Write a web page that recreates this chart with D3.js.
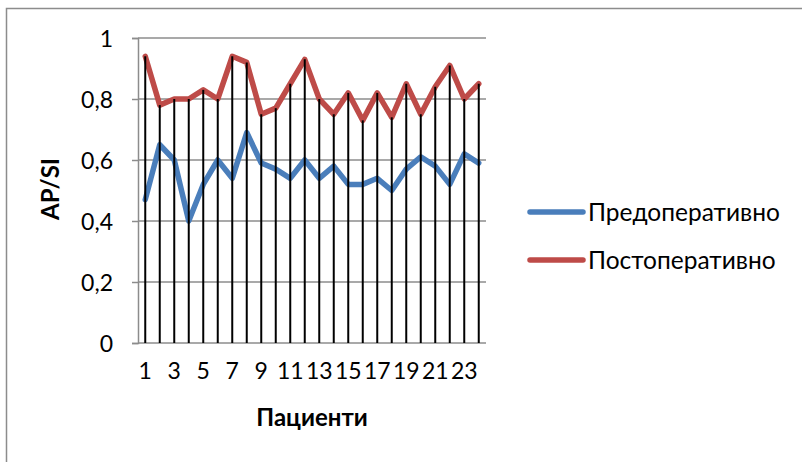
<!DOCTYPE html>
<html>
<head>
<meta charset="utf-8">
<script src="https://cdn.jsdelivr.net/npm/d3@7"></script>
<style>
  body { margin: 0; background: #fff; }
  text { font-family: Lato, "Open Sans", sans-serif; fill: #000; }
</style>
</head>
<body>
<div id="chart"></div>
<script>
// patients 1..24
var patients = d3.range(1, 25);
var preOp = [0.47, 0.65, 0.60, 0.40, 0.52, 0.60, 0.54, 0.69, 0.59, 0.57, 0.54, 0.60,
             0.54, 0.58, 0.52, 0.52, 0.54, 0.50, 0.57, 0.61, 0.58, 0.52, 0.62, 0.59];
var postOp = [0.94, 0.78, 0.80, 0.80, 0.83, 0.80, 0.94, 0.92, 0.75, 0.77, 0.85, 0.93,
              0.80, 0.75, 0.82, 0.73, 0.82, 0.74, 0.85, 0.75, 0.84, 0.91, 0.80, 0.85];
var yTicks = [0, 0.2, 0.4, 0.6, 0.8, 1];
var seriesNames = ["Предоперативно", "Постоперативно"];
var seriesColors = ["#4a7ebb", "#be4b48"];

var W = 802, H = 462;
var margin = {top: 38, right: 316, bottom: 119, left: 138},
    width = W - margin.left - margin.right,
    height = H - margin.top - margin.bottom;

var root = d3.select("#chart").append("svg")
    .attr("width", W)
    .attr("height", H);

// chart area border
root.append("rect")
    .attr("x", 6.5).attr("y", 8.5)
    .attr("width", W).attr("height", H)
    .attr("fill", "none")
    .attr("stroke", "#8c8c8c")
    .attr("stroke-width", 1.5);

var svg = root.append("g")
    .attr("transform", "translate(" + margin.left + "," + margin.top + ")");

var x = d3.scaleBand()
    .domain(patients)
    .range([0, width])
    .padding(0);

var y = d3.scaleLinear()
    .domain([0, 1])
    .range([height, 0]);

var cx = function (i) { return x(patients[i]) + x.bandwidth() / 2; };

// gridlines
svg.append("g")
    .selectAll("line")
    .data(yTicks)
    .enter()
    .append("line")
    .attr("x1", 0).attr("x2", width)
    .attr("y1", function (d) { return y(d); })
    .attr("y2", function (d) { return y(d); })
    .attr("stroke", "#8c8c8c")
    .attr("stroke-width", 1.5);

// Y axis
var yAxis = svg.append("g")
    .call(d3.axisLeft(y).tickValues(yTicks).tickSize(6).tickPadding(19)
        .tickFormat(function (d) { return d3.format(".1~f")(d).replace(".", ","); }));
yAxis.select(".domain").attr("stroke", "#8c8c8c").attr("stroke-width", 1.5);
yAxis.selectAll(".tick line").attr("stroke", "#8c8c8c").attr("stroke-width", 1.5);
yAxis.selectAll("text").style("font-size", "23px").attr("dy", "0.35em");

// X axis labels (every other category)
var xAxis = svg.append("g")
    .attr("transform", "translate(0," + height + ")")
    .call(d3.axisBottom(x).tickSize(0).tickPadding(20)
        .tickFormat(function (d) { return d % 2 === 1 ? d : ""; }));
xAxis.select(".domain").remove();
xAxis.selectAll("text").style("font-size", "23px");

// series lines
var line = d3.line()
    .x(function (d, i) { return cx(i); })
    .y(function (d) { return y(d); });

[preOp, postOp].forEach(function (vals, k) {
    svg.append("path")
        .datum(vals)
        .attr("d", line)
        .attr("fill", "none")
        .attr("stroke", seriesColors[k])
        .attr("stroke-width", 5.5)
        .attr("stroke-linejoin", "round")
        .attr("stroke-linecap", "round");
});

// drop lines
svg.append("g")
    .selectAll("line")
    .data(postOp)
    .enter()
    .append("line")
    .attr("x1", function (d, i) { return cx(i); })
    .attr("x2", function (d, i) { return cx(i); })
    .attr("y1", function (d, i) { return y(Math.max(d, preOp[i])); })
    .attr("y2", y(0))
    .attr("stroke", "#000")
    .attr("stroke-width", 2);

// axis titles
svg.append("text")
    .attr("transform", "translate(" + (51 - margin.left) + "," + (189 - margin.top) + ") rotate(-90)")
    .attr("dy", "0.35em")
    .style("text-anchor", "middle")
    .style("font-size", "24px")
    .style("font-weight", "bold")
    .text("AP/SI");

svg.append("text")
    .attr("x", width / 2)
    .attr("y", 426 - margin.top)
    .style("text-anchor", "middle")
    .style("font-size", "24px")
    .style("font-weight", "bold")
    .text("Пациенти");

// legend
var legend = root.append("g");
seriesNames.forEach(function (name, k) {
    var ly = 212 + k * 48;
    legend.append("line")
        .attr("x1", 530).attr("x2", 583)
        .attr("y1", ly).attr("y2", ly)
        .attr("stroke", seriesColors[k])
        .attr("stroke-width", 5.5)
        .attr("stroke-linecap", "round");
    legend.append("text")
        .attr("x", 588).attr("y", ly)
        .attr("dy", "0.35em")
        .style("font-size", "24.5px")
        .text(name);
});
</script>
</body>
</html>
